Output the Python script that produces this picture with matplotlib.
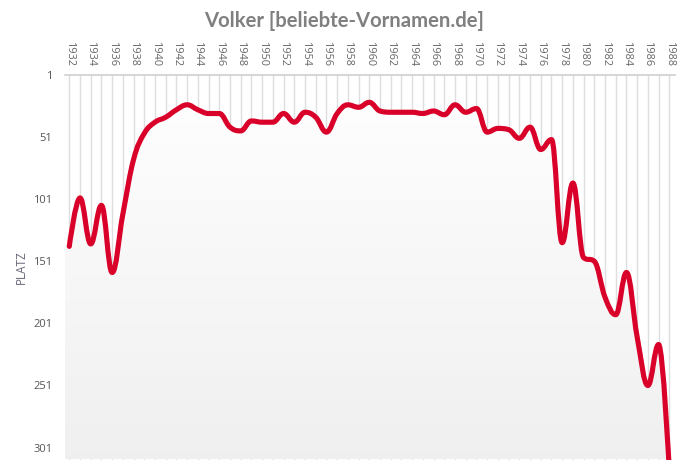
import numpy as np
import matplotlib
matplotlib.use("Agg")
import matplotlib.pyplot as plt
from matplotlib.path import Path
from matplotlib.patches import PathPatch

# rank per year (1988 runs off the bottom)
years = list(range(1932, 1989))
ranks = [139, 100, 137, 106, 160, 113, 69, 48, 39, 35,
         29, 25, 29, 32, 32, 43, 46, 38, 39, 39,
         32, 39, 31, 35, 47, 32, 25, 27, 23, 30,
         31, 31, 31, 32, 30, 33, 25, 31, 28, 47,
         44, 45, 52, 43, 61, 53, 136, 88, 148, 151,
         180, 194, 160, 212, 251, 218, 320]
ytick_vals = [1, 51, 101, 151, 201, 251, 301]
xtick_vals = list(range(1932, 1989, 2))

title = "Volker [beliebte-Vornamen.de]"
ylabel = "PLATZ"
red = "#d90029"


def spline_path(xs, ys, smoothing=1.5):
    # cubic bezier through the points, control points as in a highcharts spline
    n = len(xs)
    lc = [None] * n
    rc = [None] * n
    for i in range(n):
        x, y = xs[i], ys[i]
        if i == 0 or i == n - 1:
            lc[i] = (x, y)
            rc[i] = (x, y)
            continue
        px, py = xs[i - 1], ys[i - 1]
        nx, ny = xs[i + 1], ys[i + 1]
        d = smoothing + 1
        lx, ly = (smoothing * x + px) / d, (smoothing * y + py) / d
        rx, ry = (smoothing * x + nx) / d, (smoothing * y + ny) / d
        corr = 0
        if rx != lx:
            corr = (ry - ly) * (rx - x) / (rx - lx) + y - ry
        ly += corr
        ry += corr
        if ly > py and ly > y:
            ly = max(py, y)
            ry = 2 * y - ly
        elif ly < py and ly < y:
            ly = min(py, y)
            ry = 2 * y - ly
        if ry > ny and ry > y:
            ry = max(ny, y)
            ly = 2 * y - ry
        elif ry < ny and ry < y:
            ry = min(ny, y)
            ly = 2 * y - ry
        lc[i] = (lx, ly)
        rc[i] = (rx, ry)
    verts = [(xs[0], ys[0])]
    codes = [Path.MOVETO]
    for i in range(1, n):
        verts += [rc[i - 1], lc[i], (xs[i], ys[i])]
        codes += [Path.CURVE4] * 3
    return verts, codes


fig = plt.figure(figsize=(6.89, 4.74), dpi=100)
ax = fig.add_axes([65 / 689, 1 - 459.5 / 474, 610 / 689, 384.5 / 474])

x0, x1 = 1931.6, 1988.53
y0, y1 = 310.6, 1
ax.set_xlim(x0, x1)
ax.set_ylim(y0, y1)

# vertical grid, hidden below the curve by the fill
for yr in years:
    ax.axvline(yr, color="#dedede", lw=1, zorder=1)
ax.axhline(1, color="#d0d0d0", lw=1.2, zorder=1, clip_on=False)

verts, codes = spline_path(years, ranks)

# fill region under the curve with a soft grey gradient
fill_verts = [(x0, ranks[0])] + [(v[0], v[1]) for v in verts]
fill_codes = [Path.MOVETO] + [Path.LINETO] + codes[1:]
fill_verts += [(x1, 400), (x1, 400), (x0, 400), (x0, ranks[0])]
fill_codes += [Path.LINETO, Path.LINETO, Path.LINETO, Path.CLOSEPOLY]
fill_path = Path(fill_verts, fill_codes)
clip = PathPatch(fill_path, transform=ax.transData, facecolor="none", edgecolor="none")
ax.add_patch(clip)

grad = np.linspace(1.0, 0.94, 256).reshape(-1, 1)
img = ax.imshow(np.dstack([grad, grad, grad]), extent=[x0, x1, y0, y1],
                aspect="auto", zorder=2, interpolation="bilinear")
img.set_clip_path(clip)
ax.set_xlim(x0, x1)
ax.set_ylim(y0, y1)

line = PathPatch(Path(verts, codes), facecolor="none", edgecolor=red, lw=3.7,
                 capstyle="round", joinstyle="round", zorder=3)
ax.add_patch(line)

for s in ax.spines.values():
    s.set_visible(False)

ax.xaxis.tick_top()
ax.set_xticks(xtick_vals)
ax.set_xticklabels([str(v) for v in xtick_vals], rotation=-90,
                   fontsize=7.8, color="#666666", family="Open Sans")
ax.tick_params(axis="x", length=0, pad=6)
ax.set_yticks(ytick_vals)
ax.set_yticklabels([str(v) for v in ytick_vals], fontsize=8,
                   color="#555555", family="Open Sans")
ax.tick_params(axis="y", length=0, pad=9)
ax.set_ylabel(ylabel, fontsize=8.5, color="#666677", family="Open Sans", labelpad=4)

fig.text(0.5, 1 - 21 / 474, title, ha="center", va="center", fontsize=14.6,
         fontweight="bold", color="#808080", family="Lato")

fig.savefig("out.png", dpi=100)
